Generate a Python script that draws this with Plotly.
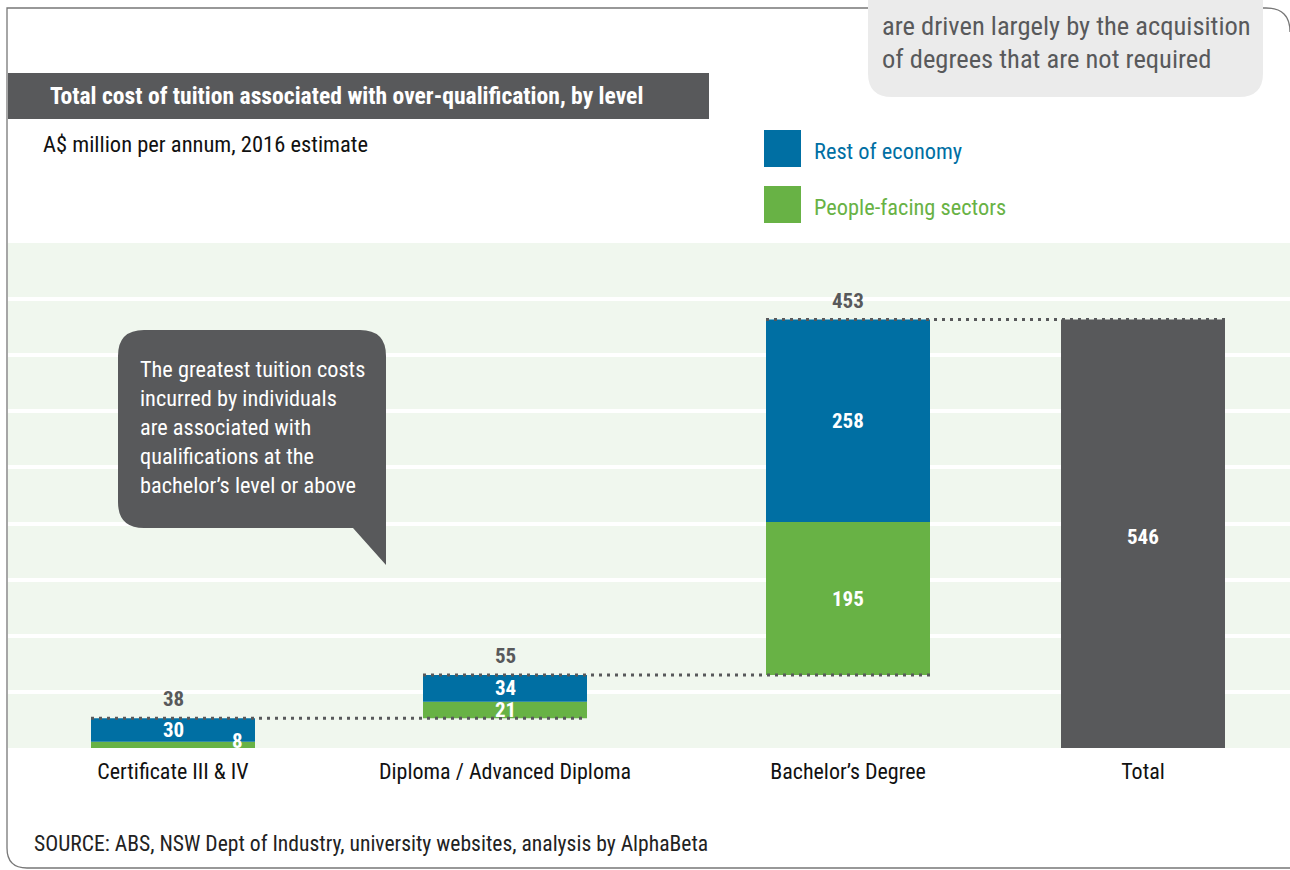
import plotly.graph_objects as go

# ---------------- data ----------------
categories = ["Certificate III & IV", "Diploma / Advanced Diploma", "Bachelor’s Degree", "Total"]
people_facing = [8, 21, 195]
rest_of_economy = [30, 34, 258]
total_value = 546

# ---------------- layout constants ----------------
W, H = 1290, 870
ML, MR, MT, MB = 8, 0, 243, 122
PW, PH = W - ML - MR, H - MT - MB
CAT_X = [173, 505, 848, 1143]     # category centres on the x axis
BAR_W = 164
Y_MAX = 643.5
Y_STEP = 71.5

BLUE = "#006FA3"
GREEN = "#68B245"
DARK = "#58595B"
BG = "#F0F7EE"
FONT = "Liberation Sans Narrow, Roboto Condensed, Arial Narrow, Roboto, sans-serif"


def px(x):
    return (x - ML) / PW


def py(y):
    return (MT + PH - y) / PH


# waterfall bases
bases_green = []
run = 0
for g, b in zip(people_facing, rest_of_economy):
    bases_green.append(run)
    run += g + b
bases_blue = [bg + g for bg, g in zip(bases_green, people_facing)]
tops = [bb + b for bb, b in zip(bases_blue, rest_of_economy)]
level_sums = [g + b for g, b in zip(people_facing, rest_of_economy)]

fig = go.Figure()
fig.add_trace(go.Bar(x=CAT_X[:3], y=people_facing, base=bases_green, width=BAR_W,
                     marker=dict(color=GREEN, line=dict(width=0)), name="People-facing sectors",
                     hoverinfo="skip"))
fig.add_trace(go.Bar(x=CAT_X[:3], y=rest_of_economy, base=bases_blue, width=BAR_W,
                     marker=dict(color=BLUE, line=dict(width=0)), name="Rest of economy",
                     hoverinfo="skip"))
fig.add_trace(go.Bar(x=[CAT_X[3]], y=[total_value], base=[0], width=BAR_W,
                     marker=dict(color=DARK, line=dict(width=0)), name="Total",
                     hoverinfo="skip"))

# dotted connectors: from left edge of a bar to right edge of the next bar at the running top
for i in range(3):
    fig.add_trace(go.Scatter(
        x=[CAT_X[i] - BAR_W / 2, CAT_X[i + 1] + BAR_W / 2], y=[tops[i], tops[i]],
        mode="lines", line=dict(color=DARK, width=3, dash="3px,5px"),
        hoverinfo="skip", showlegend=False))

annotations = []
VAL_SIZE = 21
# totals above each level
for i in range(3):
    annotations.append(dict(x=CAT_X[i], y=tops[i], xref="x", yref="y", text=f"<b>{level_sums[i]}</b>",
                            showarrow=False, yanchor="bottom", yshift=5,
                            font=dict(family=FONT, size=VAL_SIZE, color=DARK)))
# segment labels
for i in range(3):
    bx = CAT_X[i]
    by = bases_blue[i] + rest_of_economy[i] / 2
    annotations.append(dict(x=bx, y=by, xref="x", yref="y", text=f"<b>{rest_of_economy[i]}</b>",
                            showarrow=False, font=dict(family=FONT, size=VAL_SIZE, color="white")))
    gx = CAT_X[i]
    gy = bases_green[i] + people_facing[i] / 2
    ys = 0
    if i == 0:
        gx = CAT_X[i] + 64
        ys = 4
    annotations.append(dict(x=gx, y=gy, xref="x", yref="y", text=f"<b>{people_facing[i]}</b>",
                            showarrow=False, yshift=ys, font=dict(family=FONT, size=VAL_SIZE, color="white")))
annotations.append(dict(x=CAT_X[3], y=total_value / 2, xref="x", yref="y", text=f"<b>{total_value}</b>",
                        showarrow=False, yshift=-3, font=dict(family=FONT, size=VAL_SIZE, color="white")))

shapes = []
# frame
shapes.append(dict(type="path", xref="paper", yref="paper", layer="below",
                   path=f"M {px(1290)},{py(32)} Q {px(1290)},{py(8)} {px(1266)},{py(8)} L {px(7)},{py(8)} "
                        f"L {px(7)},{py(848)} Q {px(7)},{py(868)} {px(27)},{py(868)} L {px(1290)},{py(868)}",
                   line=dict(color="#777777", width=1.3)))
# title bar
shapes.append(dict(type="rect", xref="paper", yref="paper", x0=px(8), x1=px(709), y0=py(73), y1=py(119),
                   fillcolor=DARK, line=dict(width=0)))
# top-right grey callout (rounded rect)
x0, x1, y0, y1, r = 868, 1263, -30, 97, 24
shapes.append(dict(type="path", xref="paper", yref="paper",
                   path=f"M {px(x0)},{py(y0)} L {px(x1)},{py(y0)} L {px(x1)},{py(y1 - r)} "
                        f"Q {px(x1)},{py(y1)} {px(x1 - r)},{py(y1)} L {px(x0 + r)},{py(y1)} "
                        f"Q {px(x0)},{py(y1)} {px(x0)},{py(y1 - r)} Z",
                   fillcolor="#EBEBEB", line=dict(width=0)))
# speech bubble
bx0, bx1, by0, by1, br = 118, 386, 330, 528, 26
shapes.append(dict(type="path", xref="paper", yref="paper",
                   path=f"M {px(bx0 + br)},{py(by0)} L {px(bx1 - br)},{py(by0)} "
                        f"Q {px(bx1)},{py(by0)} {px(bx1)},{py(by0 + br)} "
                        f"L {px(bx1)},{py(565)} L {px(353)},{py(by1)} "
                        f"L {px(bx0 + br)},{py(by1)} Q {px(bx0)},{py(by1)} {px(bx0)},{py(by1 - br)} "
                        f"L {px(bx0)},{py(by0 + br)} Q {px(bx0)},{py(by0)} {px(bx0 + br)},{py(by0)} Z",
                   fillcolor=DARK, line=dict(width=0)))
# legend squares
shapes.append(dict(type="rect", xref="paper", yref="paper", x0=px(764), x1=px(801), y0=py(130), y1=py(167),
                   fillcolor=BLUE, line=dict(width=0)))
shapes.append(dict(type="rect", xref="paper", yref="paper", x0=px(764), x1=px(801), y0=py(186), y1=py(223),
                   fillcolor=GREEN, line=dict(width=0)))


def label(x, y, text, size, color, anchor="left", bold=False):
    t = f"<b>{text}</b>" if bold else text
    return dict(x=px(x - 2), y=py(y), xref="paper", yref="paper", text=t, showarrow=False,
                xanchor=anchor, yanchor="middle", align="left",
                font=dict(family=FONT, size=size, color=color))


annotations += [
    label(50, 96, "Total cost of tuition associated with over-qualification, by level", 23.6, "white", bold=True),
    label(43, 144, "A$ million per annum, 2016 estimate", 22.5, "#111111"),
    label(814, 151, "Rest of economy", 22.4, BLUE),
    label(814, 207, "People-facing sectors", 22.4, GREEN),
    label(34, 843, "SOURCE: ABS, NSW Dept of Industry, university websites, analysis by AlphaBeta", 21.6, "#222222"),
    label(882, 25, "are driven largely by the acquisition", 26.5, DARK),
    label(882, 59, "of degrees that are not required", 26.5, DARK),
]
bubble_lines = ["The greatest tuition costs", "incurred by individuals", "are associated with",
                "qualifications at the", "bachelor’s level or above"]
for k, ln in enumerate(bubble_lines):
    annotations.append(label(140, 369 + 29 * k, ln, 22.3, "white"))

fig.update_layout(
    width=W, height=H,
    margin=dict(l=ML, r=MR, t=MT, b=MB, pad=0),
    paper_bgcolor="white", plot_bgcolor=BG,
    barmode="overlay", showlegend=False,
    font=dict(family=FONT),
    xaxis=dict(range=[ML, W - MR], tickvals=CAT_X, ticktext=categories, showgrid=False, zeroline=False,
               ticks="outside", ticklen=4, tickcolor="rgba(0,0,0,0)", showline=False,
               tickfont=dict(family=FONT, size=22, color="#111111"), fixedrange=True),
    yaxis=dict(range=[0, Y_MAX], dtick=Y_STEP, tick0=0, showgrid=True, gridcolor="white", gridwidth=3.5,
               zeroline=False, showticklabels=False, showline=False, fixedrange=True),
    shapes=shapes, annotations=annotations,
)

fig.write_html("out.html", config={"displayModeBar": False})
